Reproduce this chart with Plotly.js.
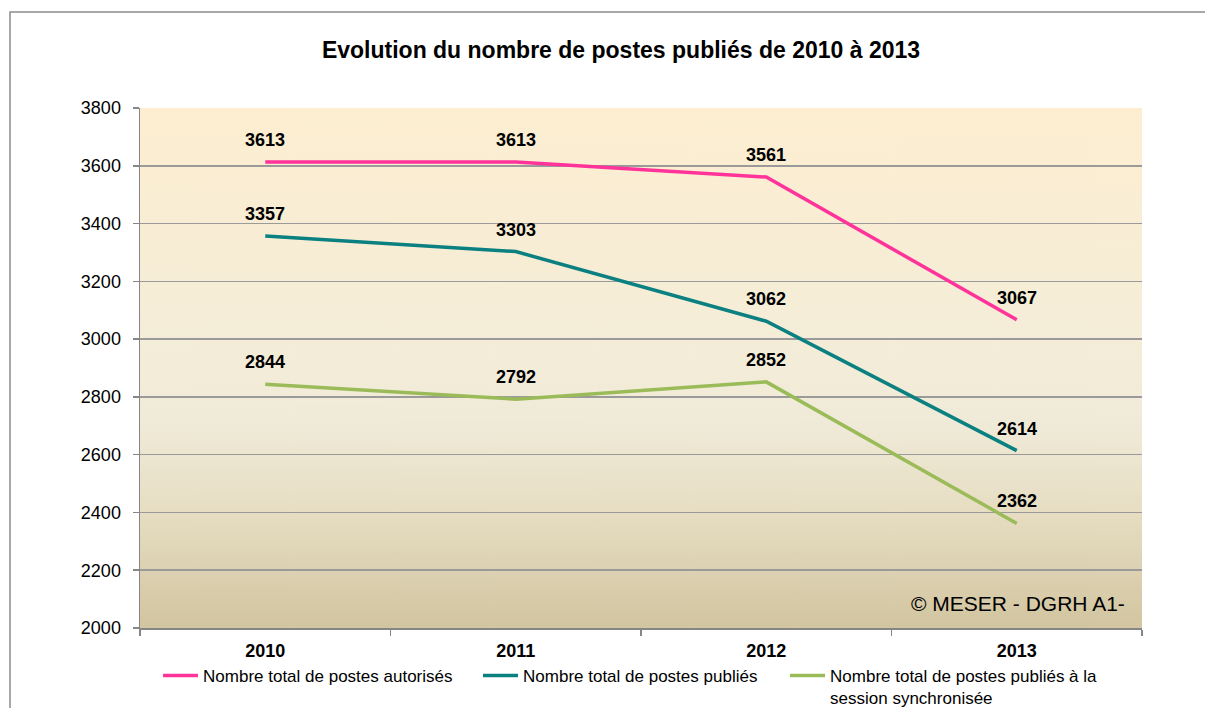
<!DOCTYPE html>
<html>
<head>
<meta charset="utf-8">
<script src="https://cdn.plot.ly/plotly-3.0.1.min.js"></script>
<style>html,body{margin:0;padding:0;background:#fff;}#chart{width:1205px;height:708px;}</style>
</head>
<body>
<div id="chart"></div>
<script>
const years = ['2010', '2011', '2012', '2013'];
const autorises = [3613, 3613, 3561, 3067];
const publies = [3357, 3303, 3062, 2614];
const synchronises = [2844, 2792, 2852, 2362];
const seriesNames = [
  'Nombre total de postes autorisés',
  'Nombre total de postes publiés',
  'Nombre total de postes publiés à la<br>session synchronisée'
];
const seriesColors = ['#FF3399', '#0A8080', '#9BBB59'];
const legendWidths = [270, 257, 300];
const yTicks = [2000, 2200, 2400, 2600, 2800, 3000, 3200, 3400, 3600, 3800];

const FONT = 'Liberation Sans, Arial, sans-serif';

// gradient background for plot area
const cv = document.createElement('canvas');
cv.width = 10; cv.height = 520;
const ctx = cv.getContext('2d');
const g = ctx.createLinearGradient(0, 0, 0, 520);
g.addColorStop(0, '#FDEED1');
g.addColorStop(0.4, '#F5EDD7');
g.addColorStop(0.6, '#F0EBD9');
g.addColorStop(0.78, '#E6DDC2');
g.addColorStop(1, '#D2C5A0');
ctx.fillStyle = g;
ctx.fillRect(0, 0, 10, 520);
const bgUrl = cv.toDataURL('image/png');

const allSeries = [autorises, publies, synchronises];
const traces = allSeries.map((vals, i) => ({
  x: years,
  y: vals,
  type: 'scatter',
  mode: 'lines',
  name: seriesNames[i],
  legendwidth: legendWidths[i],
  line: {color: seriesColors[i], width: 3.5},
  hoverinfo: 'x+y'
}));

const annotations = [];
allSeries.forEach(vals => {
  vals.forEach((v, j) => {
    annotations.push({
      x: j, y: v, xref: 'x', yref: 'y',
      text: String(v), showarrow: false, yshift: 22,
      font: {family: FONT, size: 18, color: '#000', weight: 'bold'}
    });
  });
});
annotations.push({
  x: (1127 - 140) / 1002, y: (628 - 603) / 520, xref: 'paper', yref: 'paper',
  xanchor: 'right', yanchor: 'middle',
  text: '© MESER - DGRH A1-', showarrow: false,
  font: {family: FONT, size: 21, color: '#000'}
});

const layout = {
  width: 1205, height: 708,
  margin: {l: 140, r: 63, t: 108, b: 80, autoexpand: false},
  paper_bgcolor: '#FFFFFF',
  plot_bgcolor: 'rgba(0,0,0,0)',
  font: {family: FONT, color: '#000'},
  title: {
    text: '<b>Evolution du nombre de postes publiés de 2010 à 2013</b>',
    font: {family: FONT, size: 23, color: '#000'},
    xref: 'container', yref: 'container',
    x: 621 / 1205, xanchor: 'center',
    y: 1 - 50 / 708, yanchor: 'middle'
  },
  xaxis: {
    type: 'category',
    range: [-0.5, 3.5],
    tickson: 'boundaries',
    ticks: 'outside', ticklen: 6, tickcolor: '#868686', tickwidth: 1.5,
    showline: true, linecolor: '#868686', linewidth: 1.5,
    showgrid: false,
    tickfont: {family: FONT, size: 18, color: '#000', weight: 'bold'},
    ticklabelstandoff: 6,
    fixedrange: true
  },
  yaxis: {
    range: [2000, 3800],
    tickvals: yTicks,
    ticks: 'outside', ticklen: 6, tickcolor: '#868686', tickwidth: 1.5,
    showline: true, linecolor: '#868686', linewidth: 1.5,
    showgrid: true, gridcolor: '#9A9A9A', gridwidth: 1.5,
    zeroline: false,
    tickfont: {family: FONT, size: 18, color: '#000'},
    ticklabelstandoff: 8,
    fixedrange: true
  },
  legend: {
    orientation: 'h',
    x: 0.018, xanchor: 'left',
    y: -0.0577, yanchor: 'top',
    valign: 'top',
    font: {family: FONT, size: 17, color: '#000'},
    bgcolor: 'rgba(0,0,0,0)',
    itemwidth: 35,
    tracegroupgap: 0
  },
  images: [{
    source: bgUrl, xref: 'paper', yref: 'paper',
    x: 0, y: 1, sizex: 1, sizey: 1, sizing: 'stretch',
    xanchor: 'left', yanchor: 'top', layer: 'below'
  }],
  shapes: [{
    type: 'rect', xref: 'paper', yref: 'paper',
    x0: (10 - 140) / 1002, x1: (1225 - 140) / 1002,
    y0: (628 - 725) / 520, y1: (628 - 12) / 520,
    line: {color: '#8C8C8C', width: 1.5}, fillcolor: 'rgba(0,0,0,0)', layer: 'below'
  }],
  annotations: annotations,
  showlegend: true
};

Plotly.newPlot('chart', traces, layout, {displayModeBar: false, staticPlot: true});
</script>
</body>
</html>
